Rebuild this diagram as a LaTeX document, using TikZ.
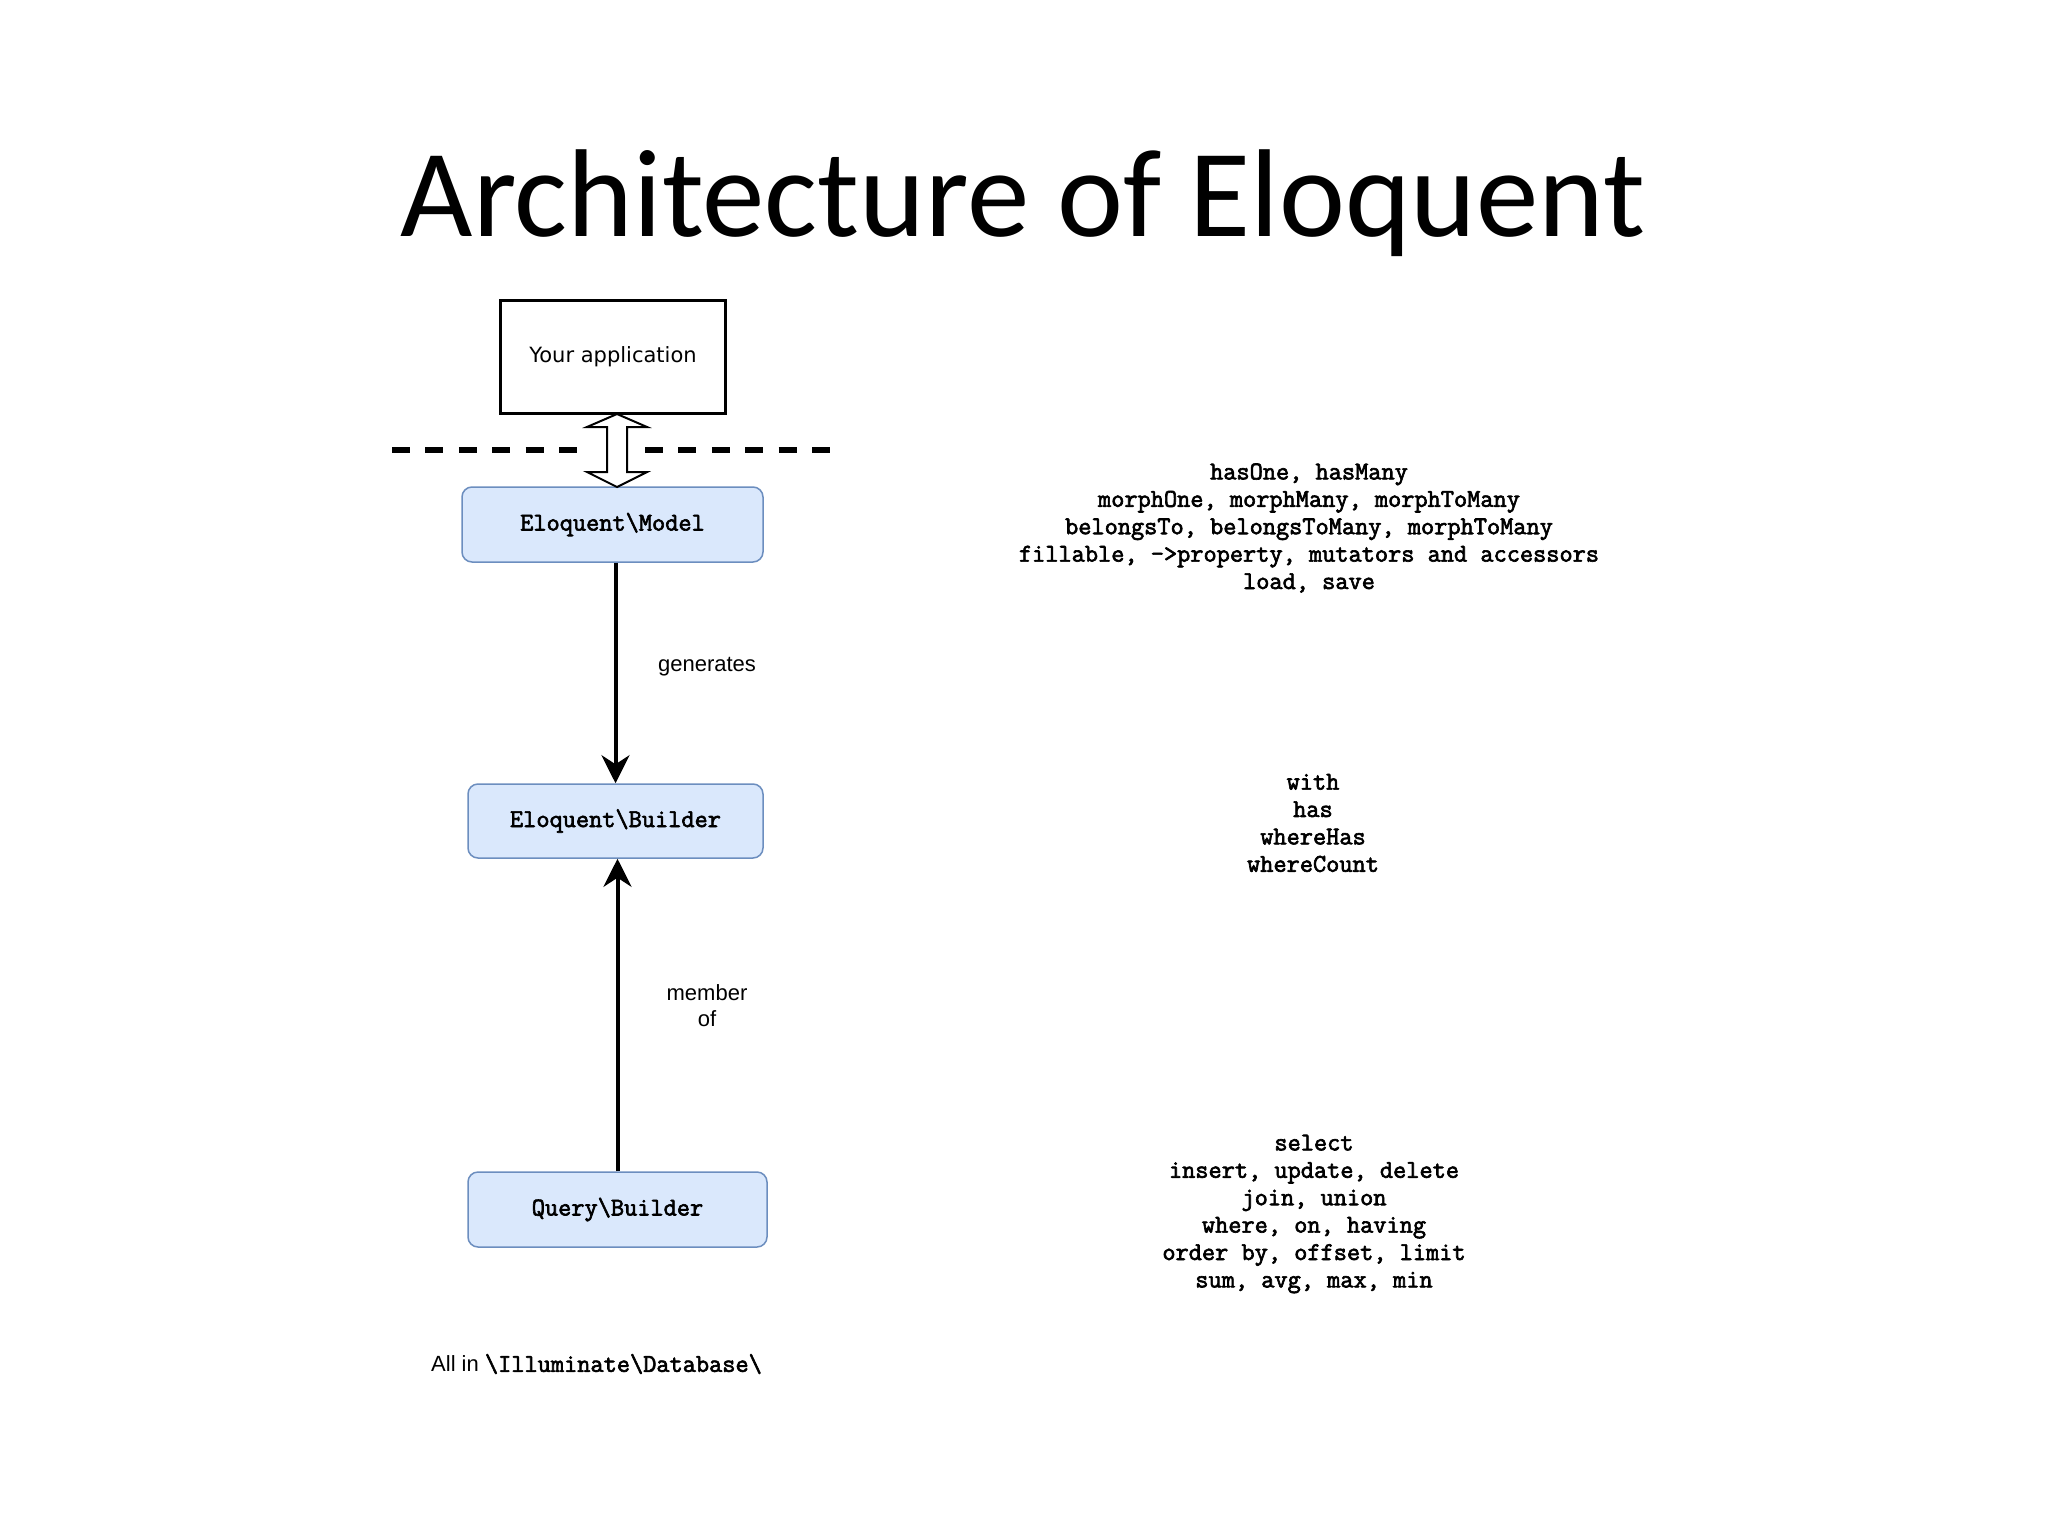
\documentclass[tikz,border=0pt]{standalone}
\usepackage{fontspec}
\setmainfont{Liberation Sans}
\newfontfamily\titlefont{Carlito}
\newfontfamily\codefont[AutoFakeBold=2.5]{Latin Modern Mono}
\newfontfamily\appfont{DejaVu Sans}
\usetikzlibrary{arrows.meta}
\definecolor{boxfill}{HTML}{DAE8FC}
\definecolor{boxline}{HTML}{6C8EBF}
\tikzset{
  classbox/.style={draw=boxline, fill=boxfill, line width=1.5pt, rounded corners=10pt,
    font=\codefont\bfseries\fontsize{25.6}{27}\selectfont, inner sep=0pt},
  appbox/.style={draw=black, line width=3pt, inner sep=0pt,
    font=\appfont\fontsize{21}{25}\selectfont},
  codetext/.style={font=\codefont\bfseries\fontsize{25.6}{27.4}\selectfont, align=center, inner sep=0pt},
  labeltext/.style={font=\fontsize{22}{26}\selectfont, align=center, inner sep=0pt},
  flowarrow/.style={line width=4pt, -{Stealth[length=28pt, width=28pt, inset=9pt]}},
  hollowarrow/.style={draw=black, fill=white, line width=2pt, line join=miter},
  separator/.style={line width=6pt, dash pattern=on 18pt off 15.4pt}
}
\begin{document}
\begin{tikzpicture}[x=1pt,y=-1pt]
\useasboundingbox (0,0) rectangle (2048,1536);
\fill[white] (0,0) rectangle (2048,1536);

% title
\node[anchor=base, inner sep=0pt, font=\titlefont\fontsize{125}{130}\selectfont] (title) at (1023,236) {Architecture of Eloquent};

% nodes
\node[appbox, minimum width=225pt, minimum height=113pt] (app) at (613,356.5) {Your application};
\node[classbox, minimum width=301pt, minimum height=75pt] (model) at (612.5,524.5) {Eloquent\textbackslash Model};
\node[classbox, minimum width=295pt, minimum height=74pt] (builder) at (615.5,821) {Eloquent\textbackslash Builder};
\node[classbox, minimum width=299pt, minimum height=75pt] (query) at (617.5,1209.5) {Query\textbackslash Builder};

% separator
\draw[separator] (392,450) -- (580,450);
\draw[separator] (645,450) -- (830,450);

% hollow double arrow between app and model
\coordinate (hatop) at (617,414);
\draw[hollowarrow] (hatop) -- ++(30,13) -- ++(-20,0) -- ++(0,45) -- ++(20,0) -- ++(-30,15)
  -- ++(-30,-15) -- ++(20,0) -- ++(0,-45) -- ++(-20,0) -- cycle;

% connectors
\draw[flowarrow] (model.south -| builder.north) -- (builder.north);
\draw[flowarrow] (query.north) -- (builder.south -| query.north);

% labels
\node[labeltext] (lgen) at (707,667) {generates};
\node[labeltext] (lmem) at (707,1006) {member\\of};

% right texts
\node[codetext] (t1) at (1309,528) {hasOne, hasMany\\morphOne, morphMany, morphToMany\\belongsTo, belongsToMany, morphToMany\\fillable, ->property, mutators and accessors\\load, save};
\node[codetext] (t2) at (1313,823) {with\\has\\whereHas\\whereCount};
\node[codetext] (t3) at (1314,1214) {select\\insert, update, delete\\join, union\\where, on, having\\order by, offset, limit\\sum, avg, max, min};

% bottom note
\node[anchor=west, inner sep=0pt, font=\fontsize{22}{26}\selectfont] (note) at (431,1364) {All in {\codefont\bfseries\fontsize{25.6}{27}\selectfont \textbackslash Illuminate\textbackslash Database\textbackslash}};
\end{tikzpicture}
\end{document}
